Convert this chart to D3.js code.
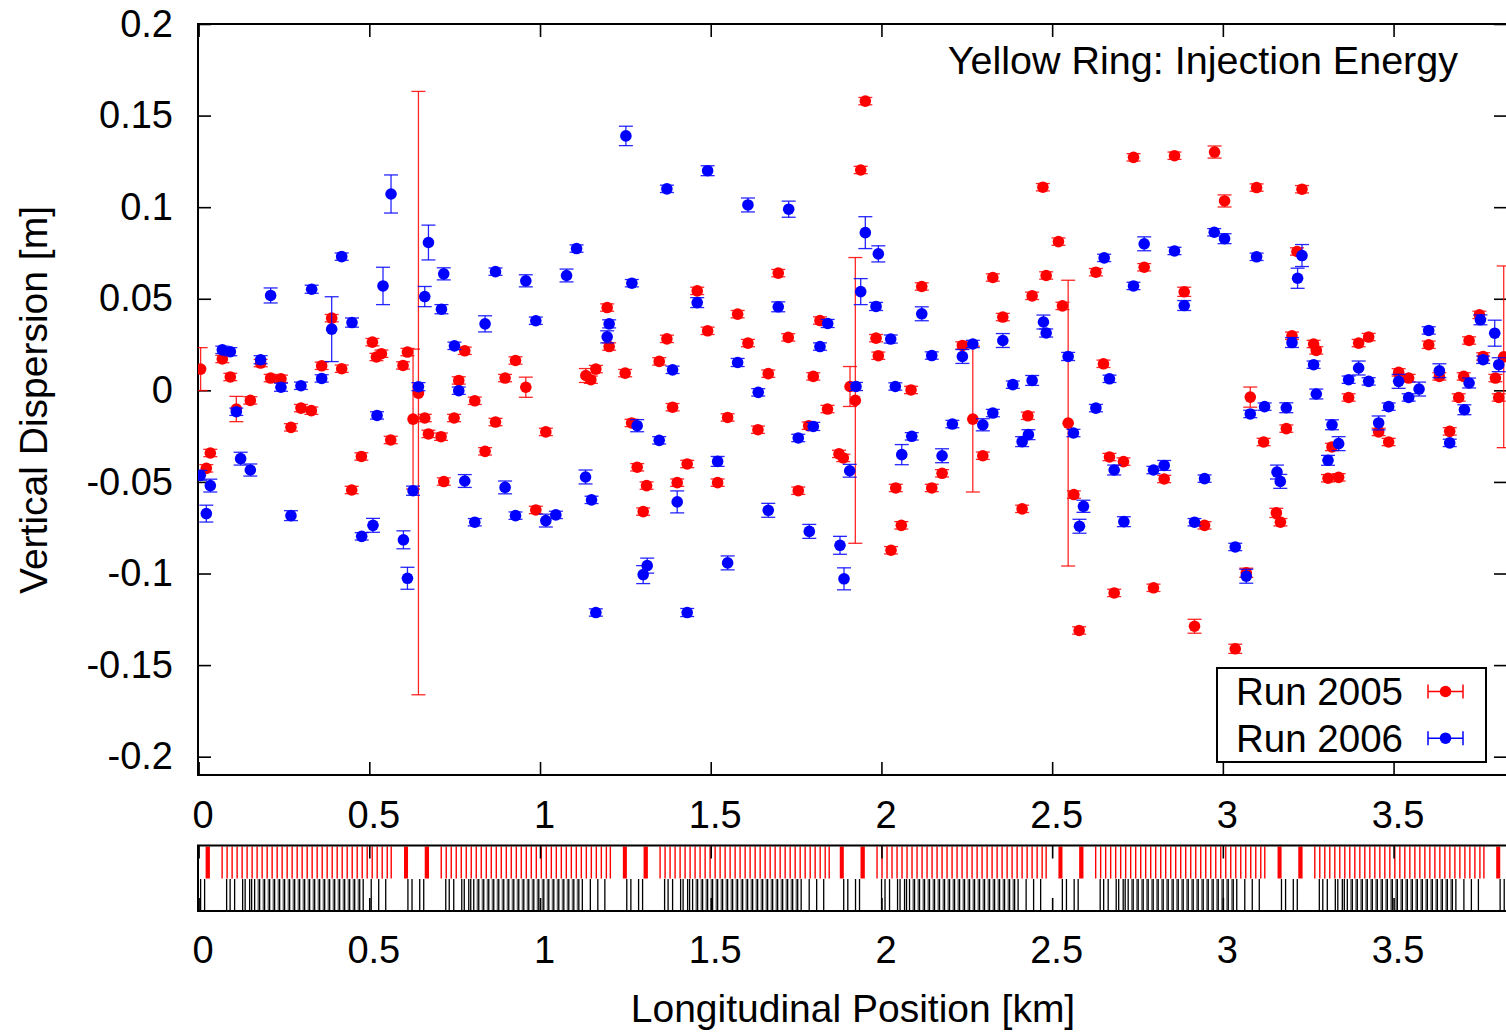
<!DOCTYPE html>
<html>
<head>
<meta charset="utf-8">
<script src="https://cdn.jsdelivr.net/npm/d3@7"></script>
<style>
  body { margin: 0; background: #fff; }
  text { font-family: "Liberation Sans", Arial, sans-serif; fill: #000; }
</style>
</head>
<body>
<svg id="chart" width="1506" height="1032"></svg>
<script>
// ----------------------------
// DATA  [position km, dispersion m, error m]
// ----------------------------
const run2005 = [
  [0.0059,0.0116,0.0117],[0.0226,-0.0426,0.002],[0.0343,-0.0342,0.002],[0.0695,0.0171,0.002],
  [0.0929,0.0073,0.002],[0.1105,-0.0102,0.0069],[0.1515,-0.0055,0.002],[0.1817,0.0149,0.002],
  [0.2110,0.0067,0.002],[0.2412,0.0063,0.002],[0.2705,-0.0202,0.002],[0.2998,-0.0097,0.002],
  [0.3303,-0.0111,0.002],[0.3605,0.0134,0.002],[0.3898,0.0394,0.002],[0.4191,0.0118,0.002],
  [0.4484,-0.0544,0.002],[0.4768,-0.0361,0.002],[0.5091,0.0263,0.002],[0.5208,0.0182,0.002],
  [0.5355,0.0200,0.002],[0.5627,-0.0271,0.002],[0.5988,0.0136,0.002],[0.6117,0.0209,0.002],
  [0.6281,-0.0157,0.0382],[0.6439,-0.0015,0.1647],[0.6624,-0.0151,0.002],[0.6732,-0.0238,0.002],
  [0.7101,-0.0253,0.002],[0.7181,-0.0498,0.002],[0.7483,-0.0151,0.002],[0.7620,0.0054,0.002],
  [0.7796,0.0216,0.002],[0.8089,-0.0057,0.002],[0.8391,-0.0333,0.002],[0.8696,-0.0173,0.002],
  [0.8977,0.0067,0.002],[0.9282,0.0163,0.002],[0.9584,0.0017,0.0055],[0.9877,-0.0653,0.002],
  [1.0170,-0.0227,0.002],[1.1342,0.0081,0.0038],[1.1489,0.0058,0.002],[1.1635,0.0116,0.002],
  [1.1967,0.0452,0.002],[1.2025,0.0239,0.002],[1.2494,0.0094,0.002],[1.2682,-0.0178,0.002],
  [1.2846,-0.0420,0.002],[1.3022,-0.0662,0.002],[1.3121,-0.0520,0.002],[1.3491,0.0158,0.002],
  [1.3716,0.0281,0.002],[1.3883,-0.0092,0.002],[1.4018,-0.0504,0.002],[1.4311,-0.0402,0.002],
  [1.4604,0.0543,0.002],[1.4909,0.0325,0.002],[1.5202,-0.0504,0.002],[1.5495,-0.0148,0.002],
  [1.5788,0.0416,0.002],[1.6090,0.0258,0.002],[1.6383,-0.0215,0.002],[1.6685,0.0091,0.002],
  [1.6978,0.0640,0.002],[1.7271,0.0289,0.002],[1.7564,-0.0548,0.002],[1.7869,-0.0193,0.002],
  [1.8004,0.0076,0.002],[1.8200,0.0381,0.002],[1.8420,-0.0102,0.002],[1.8757,-0.0347,0.002],
  [1.8883,-0.0369,0.002],[1.9080,0.0021,0.0109],[1.9235,-0.0055,0.0780],[1.9393,0.1203,0.002],
  [1.9528,0.1579,0.002],[1.9842,0.0285,0.002],[1.9909,0.0189,0.002],[2.0281,-0.0873,0.002],
  [2.0419,-0.0533,0.002],[2.0583,-0.0737,0.002],[2.0867,0.0002,0.002],[2.1181,0.0567,0.002],
  [2.1474,-0.0533,0.002],[2.1776,-0.0453,0.002],[2.2371,0.0245,0.002],[2.2676,-0.0157,0.0398],
  [2.2969,-0.0357,0.002],[2.3262,0.0616,0.002],[2.3555,0.0400,0.002],[2.4121,-0.0647,0.002],
  [2.4288,-0.0139,0.002],[2.4414,0.0516,0.002],[2.4728,0.1109,0.002],[2.4825,0.0627,0.002],
  [2.5185,0.0812,0.002],[2.5302,0.0461,0.002],[2.5469,-0.0179,0.0780],[2.5636,-0.0569,0.002],
  [2.5791,-0.1311,0.002],[2.6281,0.0645,0.002],[2.6503,0.0145,0.002],[2.6679,-0.0364,0.002],
  [2.6817,-0.1106,0.002],[2.7089,-0.0389,0.002],[2.7383,0.1272,0.002],[2.7696,0.0672,0.002],
  [2.7968,-0.1078,0.002],[2.8282,-0.0484,0.002],[2.8584,0.1281,0.002],[2.8868,0.0538,0.0025],
  [2.9170,-0.1288,0.0038],[2.9464,-0.0737,0.002],[2.9757,0.1301,0.0033],[3.0050,0.1034,0.0033],
  [3.0363,-0.1411,0.0025],[3.0686,-0.0996,0.0025],[3.0803,-0.0037,0.0055],[3.0988,0.1107,0.002],
  [3.1194,-0.0282,0.002],[3.1567,-0.0669,0.0025],[3.1685,-0.0720,0.002],[3.1860,-0.0209,0.002],
  [3.2025,0.0298,0.002],[3.2171,0.0758,0.002],[3.2318,0.1098,0.002],[3.2658,0.0253,0.002],
  [3.2737,0.0218,0.002],[3.3080,-0.0480,0.002],[3.3197,-0.0309,0.002],[3.3391,-0.0475,0.002],
  [3.3684,-0.0039,0.002],[3.3977,0.0258,0.002],[3.4270,0.0291,0.002],[3.4563,-0.0227,0.002],
  [3.4856,-0.0282,0.002],[3.5149,0.0098,0.002],[3.5442,0.0067,0.002],[3.6029,0.0249,0.002],
  [3.6342,0.0076,0.002],[3.6644,-0.0224,0.002],[3.6908,-0.0039,0.002],[3.7054,0.0076,0.002],
  [3.7212,0.0272,0.002],[3.7514,0.0412,0.002],[3.7623,0.0185,0.002],[3.7983,0.0067,0.002],
  [3.8080,-0.0039,0.002],[3.8226,0.0183,0.0496]
];

const run2006 = [
  [0.0050,-0.0464,0.0027],[0.0226,-0.0673,0.0046],[0.0343,-0.0520,0.0035],[0.0695,0.0221,0.002],
  [0.0929,0.0211,0.0022],[0.1105,-0.0117,0.002],[0.1231,-0.0373,0.0035],[0.1515,-0.0435,0.0033],
  [0.1817,0.0167,0.0022],[0.2110,0.0518,0.0041],[0.2412,0.0017,0.0022],[0.2705,-0.0684,0.0027],
  [0.2998,0.0025,0.002],[0.3312,0.0552,0.0022],[0.3605,0.0065,0.002],[0.3898,0.0334,0.0177],
  [0.4191,0.0730,0.002],[0.4493,0.0370,0.0025],[0.4777,-0.0797,0.002],[0.5108,-0.0737,0.0038],
  [0.5226,-0.0137,0.002],[0.5401,0.0570,0.0102],[0.5636,0.1072,0.0104],[0.5999,-0.0816,0.0049],
  [0.6117,-0.1026,0.0060],[0.6281,-0.0548,0.0025],[0.6439,0.0020,0.0022],[0.6624,0.0512,0.0055],
  [0.6732,0.0807,0.0095],[0.7113,0.0443,0.0025],[0.7180,0.0636,0.0033],[0.7494,0.0243,0.002],
  [0.7620,-0.0002,0.002],[0.7796,-0.0495,0.0035],[0.8089,-0.0720,0.002],[0.8391,0.0363,0.0044],
  [0.8696,0.0648,0.002],[0.8977,-0.0530,0.0035],[0.9282,-0.0684,0.002],[0.9584,0.0598,0.0033],
  [0.9877,0.0380,0.002],[1.0170,-0.0711,0.0035],[1.0463,-0.0680,0.002],[1.0777,0.0627,0.0035],
  [1.1070,0.0774,0.002],[1.1333,-0.0473,0.0038],[1.1509,-0.0598,0.002],[1.1635,-0.1213,0.002],
  [1.1967,0.0292,0.0033],[1.2025,0.0363,0.0022],[1.2515,0.1389,0.0053],[1.2690,0.0585,0.002],
  [1.2846,-0.0193,0.0033],[1.3022,-0.1006,0.0049],[1.3139,-0.0957,0.0041],[1.3491,-0.0273,0.002],
  [1.3716,0.1100,0.002],[1.3883,0.0112,0.002],[1.4018,-0.0609,0.0060],[1.4311,-0.1213,0.0022],
  [1.4604,0.0479,0.0027],[1.4909,0.1199,0.0027],[1.5202,-0.0388,0.0027],[1.5495,-0.0942,0.0038],
  [1.5788,0.0152,0.0022],[1.6090,0.1012,0.0038],[1.6392,-0.0011,0.002],[1.6685,-0.0655,0.0038],
  [1.6978,0.0456,0.0027],[1.7283,0.0989,0.0044],[1.7564,-0.0260,0.002],[1.7887,-0.0770,0.0038],
  [1.8004,-0.0197,0.0022],[1.8200,0.0239,0.002],[1.8426,0.0365,0.0022],[1.8786,-0.0846,0.0049],
  [1.8904,-0.1029,0.0060],[1.9071,-0.0439,0.0035],[1.9255,0.0021,0.0022],[1.9393,0.0539,0.0071],
  [1.9528,0.0861,0.0087],[1.9842,0.0458,0.0022],[1.9909,0.0745,0.0044],[2.0272,0.0280,0.0022],
  [2.0407,0.0021,0.002],[2.0595,-0.0351,0.0055],[2.0888,-0.0251,0.002],[2.1181,0.0418,0.0038],
  [2.1474,0.0190,0.002],[2.1776,-0.0357,0.0038],[2.2078,-0.0184,0.002],[2.2371,0.0185,0.0038],
  [2.2676,0.0253,0.002],[2.2969,-0.0188,0.0033],[2.3262,-0.0124,0.002],[2.3555,0.0272,0.0038],
  [2.3848,0.0031,0.002],[2.4121,-0.0280,0.0027],[2.4305,-0.0242,0.0027],[2.4414,0.0054,0.0027],
  [2.4745,0.0373,0.0038],[2.4825,0.0313,0.0022],[2.5469,0.0185,0.0022],[2.5624,-0.0233,0.002],
  [2.5800,-0.0742,0.0038],[2.5917,-0.0633,0.0033],[2.6281,-0.0097,0.002],[2.6524,0.0723,0.002],
  [2.6679,0.0063,0.002],[2.6817,-0.0435,0.0027],[2.7101,-0.0717,0.0027],[2.7383,0.0570,0.002],
  [2.7696,0.0800,0.0038],[2.7968,-0.0435,0.002],[2.8282,-0.0410,0.0027],[2.8584,0.0761,0.002],
  [2.8868,0.0463,0.0027],[2.9170,-0.0720,0.002],[2.9464,-0.0482,0.002],[2.9748,0.0863,0.002],
  [3.0050,0.0828,0.0027],[3.0363,-0.0855,0.002],[3.0686,-0.1015,0.0038],[3.0803,-0.0129,0.002],
  [3.0988,0.0729,0.002],[3.1222,-0.0089,0.002],[3.1586,-0.0446,0.0038],[3.1682,-0.0497,0.0038],
  [3.1858,-0.0095,0.0027],[3.2025,0.0261,0.0027],[3.2189,0.0612,0.0055],[3.2318,0.0736,0.0060],
  [3.2658,0.0140,0.002],[3.2737,-0.0020,0.0027],[3.3080,-0.0382,0.0027],[3.3197,-0.0188,0.0027],
  [3.3391,-0.0291,0.0038],[3.3684,0.0058,0.002],[3.3977,0.0122,0.0038],[3.4270,0.0049,0.002],
  [3.4563,-0.0178,0.0038],[3.4856,-0.0089,0.002],[3.5149,0.0049,0.0038],[3.5442,-0.0039,0.002],
  [3.5747,0.0007,0.0038],[3.6029,0.0327,0.002],[3.6342,0.0107,0.0038],[3.6644,-0.0287,0.002],
  [3.7075,-0.0106,0.0027],[3.7212,0.0040,0.0027],[3.7544,0.0385,0.0027],[3.7623,0.0167,0.002],
  [3.7963,0.0312,0.0071],[3.8080,0.0140,0.0038]
];

const xTicks = [0, 0.5, 1, 1.5, 2, 2.5, 3, 3.5];
const xTickLabels = ["0", "0.5", "1", "1.5", "2", "2.5", "3", "3.5"];
const yTicks = [-0.2, -0.15, -0.1, -0.05, 0, 0.05, 0.1, 0.15, 0.2];
const yTickLabels = ["-0.2", "-0.15", "-0.1", "-0.05", "0", "0.05", "0.1", "0.15", "0.2"];

const seriesNames = ["Run 2005", "Run 2006"];
const seriesColors = ["#ff0000", "#0000ff"];

// lattice: interaction point positions (km) and element offsets from each (km)
const irCenters = [-0.0044, 0.6374, 1.2784, 1.9138, 2.5542, 3.1960, 3.8364];
const redBlocks = [[-0.0358, -0.0240], [0.0249, 0.0375]];
const redLines = [0.0733, 0.0879, 0.1026, 0.1172, 0.1319, 0.1465, 0.1612, 0.1758, 0.1905, 0.2052,
  0.2198, 0.2345, 0.2491, 0.2638, 0.2784, 0.2931, 0.3077, 0.3224, 0.3370, 0.3517, 0.3664, 0.3810,
  0.3957, 0.4103, 0.4250, 0.4396, 0.4543, 0.4689, 0.4836, 0.4982, 0.5129, 0.5275, 0.5422, 0.5569, 0.5686];
const blackLines = [-0.0243, -0.0123, 0.0103, 0.0220, 0.0865, 0.0967, 0.1099, 0.1334, 0.1407, 0.1539,
  0.1597, 0.1685, 0.1832, 0.1978, 0.2125, 0.2271, 0.2418, 0.2564, 0.2711, 0.2858, 0.3004, 0.3151,
  0.3297, 0.3444, 0.3590, 0.3737, 0.3883, 0.4030, 0.4176, 0.4323, 0.4469, 0.4616, 0.4763, 0.4865,
  0.5100, 0.5319, 0.5525];
const greyLines = [0.1758, 0.1905, 0.2052, 0.2198, 0.2345, 0.2491, 0.2638, 0.2784, 0.2931, 0.3077,
  0.3224, 0.3370, 0.3517, 0.3664, 0.3810, 0.3957, 0.4103, 0.4250, 0.4396, 0.4543, 0.4689];

// ----------------------------
// CHART
// ----------------------------
const svg = d3.select("#chart");
const pL = 198, pR = 1507, pT = 24, pB = 775;
const latTop = 845.5, latMid = 878.5, latBottom = 911;

const x = d3.scaleLinear().domain([0, 3.834]).range([198.6, 1507.6]);
const y = d3.scaleLinear().domain([-0.21, 0.2]).range([pB, pT]);

const defs = svg.append("defs");
defs.append("clipPath").attr("id", "plotClip")
  .append("rect").attr("x", pL).attr("y", pT).attr("width", pR - pL).attr("height", pB - pT);
defs.append("clipPath").attr("id", "latClip")
  .append("rect").attr("x", pL + 1).attr("y", latTop).attr("width", pR - pL).attr("height", latBottom - latTop);

function styleAxis(sel, fontSize) {
  sel.select(".domain").remove();
  sel.selectAll(".tick line").attr("stroke", "#000").attr("stroke-width", 1.6);
  sel.selectAll(".tick text").style("font-size", fontSize + "px")
    .style("font-family", "'Liberation Sans', Arial, sans-serif").attr("fill", "#000");
}

// main axes (gnuplot style: ticks inward on all sides)
svg.append("g").attr("transform", `translate(${pL},0)`)
  .call(d3.axisLeft(y).tickValues(yTicks).tickSize(-13).tickPadding(25).tickFormat((d, i) => yTickLabels[i]))
  .call(s => styleAxis(s, 38));
svg.append("g").attr("transform", `translate(${pR},0)`)
  .call(d3.axisRight(y).tickValues(yTicks).tickSize(-13).tickFormat(""))
  .call(s => styleAxis(s, 38));
svg.append("g").attr("transform", `translate(0,${pT})`)
  .call(d3.axisTop(x).tickValues(xTicks).tickSize(-13).tickFormat(""))
  .call(s => styleAxis(s, 38));
svg.append("g").attr("transform", `translate(0,${pB})`)
  .call(d3.axisBottom(x).tickValues(xTicks).tickSize(-13).tickPadding(26).tickFormat((d, i) => xTickLabels[i]))
  .call(s => styleAxis(s, 38))
  .selectAll(".tick text").attr("dx", 4);

svg.append("rect").attr("x", pL).attr("y", pT).attr("width", pR - pL).attr("height", pB - pT)
  .attr("fill", "none").attr("stroke", "#000").attr("stroke-width", 2);

// title
svg.append("text").attr("x", 1458).attr("y", 74).attr("text-anchor", "end")
  .style("font-size", "39.5px").text("Yellow Ring: Injection Energy");

// y label
svg.append("text").attr("transform", "translate(47,400) rotate(-90)").attr("text-anchor", "middle")
  .style("font-size", "39px").text("Vertical Dispersion [m]");

// data with error bars
const plot = svg.append("g").attr("clip-path", "url(#plotClip)");
const capW = 7;

[run2005, run2006].forEach((data, si) => {
  const color = seriesColors[si];
  const gs = plot.append("g");
  const bars = gs.selectAll("g.bar").data(data).join("g").attr("class", "bar")
    .attr("stroke", color).attr("stroke-width", 1.3).attr("stroke-opacity", 0.85);
  bars.append("line")
    .attr("x1", d => x(d[0])).attr("x2", d => x(d[0]))
    .attr("y1", d => y(d[1] - d[2])).attr("y2", d => y(d[1] + d[2]));
  bars.append("line")
    .attr("x1", d => x(d[0]) - capW).attr("x2", d => x(d[0]) + capW)
    .attr("y1", d => y(d[1] + d[2])).attr("y2", d => y(d[1] + d[2]));
  bars.append("line")
    .attr("x1", d => x(d[0]) - capW).attr("x2", d => x(d[0]) + capW)
    .attr("y1", d => y(d[1] - d[2])).attr("y2", d => y(d[1] - d[2]));
  gs.selectAll("circle").data(data).join("circle")
    .attr("cx", d => x(d[0])).attr("cy", d => y(d[1])).attr("r", 5.8).attr("fill", color);
});

// legend
svg.append("rect").attr("x", 1217).attr("y", 668).attr("width", 269).attr("height", 94)
  .attr("fill", "#fff").attr("stroke", "#000").attr("stroke-width", 2);
seriesNames.forEach((name, i) => {
  const cy = 691.5 + i * 46.7;
  svg.append("text").attr("x", 1236).attr("y", cy + 13.5).style("font-size", "38.5px").text(name);
  const lg = svg.append("g").attr("stroke", seriesColors[i]).attr("stroke-width", 1.5);
  lg.append("line").attr("x1", 1428).attr("x2", 1463).attr("y1", cy).attr("y2", cy);
  lg.append("line").attr("x1", 1428).attr("x2", 1428).attr("y1", cy - 7).attr("y2", cy + 7);
  lg.append("line").attr("x1", 1463).attr("x2", 1463).attr("y1", cy - 7).attr("y2", cy + 7);
  svg.append("circle").attr("cx", 1445.5).attr("cy", cy).attr("r", 5.8).attr("fill", seriesColors[i]);
});

// ----------------------------
// LATTICE STRIP
// ----------------------------
const lat = svg.append("g").attr("clip-path", "url(#latClip)");
irCenters.forEach(c => {
  redBlocks.forEach(b => {
    lat.append("rect").attr("x", x(c + b[0])).attr("width", x(c + b[1]) - x(c + b[0]))
      .attr("y", latTop + 1).attr("height", latMid - latTop - 1).attr("fill", "#ff0000");
  });
  lat.selectAll(null).data(redLines).join("line")
    .attr("x1", d => x(c + d)).attr("x2", d => x(c + d))
    .attr("y1", latTop + 1).attr("y2", latMid).attr("stroke", "#ff0000").attr("stroke-width", 1.4);
  lat.selectAll(null).data(greyLines).join("line")
    .attr("x1", d => x(c + d) + 1.2).attr("x2", d => x(c + d) + 1.2)
    .attr("y1", latMid + 0.5).attr("y2", latBottom).attr("stroke", "#6e6e6e").attr("stroke-width", 1.6);
  lat.selectAll(null).data(blackLines).join("line")
    .attr("x1", d => x(c + d)).attr("x2", d => x(c + d))
    .attr("y1", latMid + 0.5).attr("y2", latBottom).attr("stroke", "#000").attr("stroke-width", 1.3);
});

svg.append("g").attr("transform", `translate(0,${latTop})`)
  .call(d3.axisTop(x).tickValues(xTicks).tickSize(-13).tickFormat(""))
  .call(s => styleAxis(s, 38));
svg.append("g").attr("transform", `translate(0,${latBottom})`)
  .call(d3.axisBottom(x).tickValues(xTicks).tickSize(-13).tickPadding(25).tickFormat((d, i) => xTickLabels[i]))
  .call(s => styleAxis(s, 38))
  .selectAll(".tick text").attr("dx", 4);

svg.append("rect").attr("x", pL).attr("y", latTop).attr("width", pR - pL).attr("height", latBottom - latTop)
  .attr("fill", "none").attr("stroke", "#000").attr("stroke-width", 2);

// x label
svg.append("text").attr("x", 853).attr("y", 1022).attr("text-anchor", "middle")
  .style("font-size", "39px").text("Longitudinal Position [km]");
</script>
</body>
</html>
